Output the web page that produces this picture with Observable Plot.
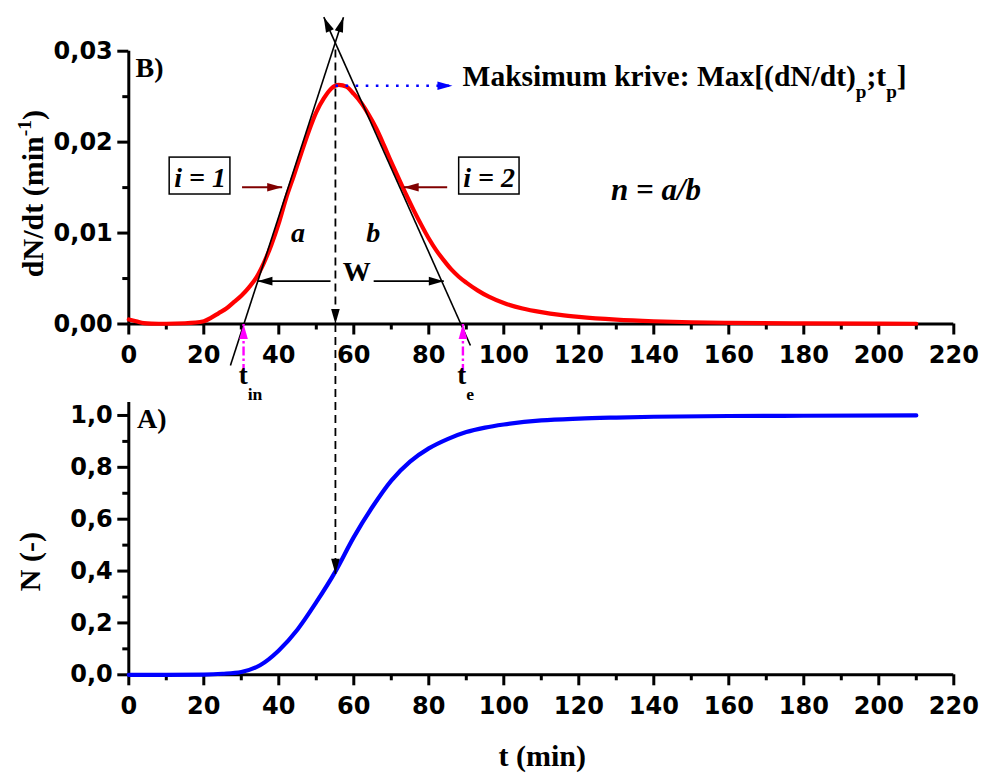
<!DOCTYPE html>
<html>
<head>
<meta charset="utf-8">
<script src="https://cdn.jsdelivr.net/npm/d3@7"></script>
<script src="https://cdn.jsdelivr.net/npm/@observablehq/plot@0.6"></script>
<style>
  html, body { margin: 0; padding: 0; background: #fff; }
  #chart { position: relative; width: 981px; height: 773px; }
  #chart svg { position: absolute; left: 0; top: 0; overflow: visible; }
</style>
</head>
<body>
<div id="chart"></div>
<script>
// ---------------- DATA ----------------
// Panel B: dN/dt (min^-1) versus t (min)
const tB = [0, 2, 4, 6, 10, 15, 20, 22, 24, 26, 28, 30, 32, 34, 36, 38, 40, 42, 44, 46, 48, 50, 52, 54, 56, 58,
            60, 62, 64, 66, 68, 70, 72, 74, 76, 78, 80, 82, 84, 86, 88, 90, 93, 96, 100, 105, 110, 115, 120,
            130, 140, 150, 160, 180, 200, 210];
const dNdt = [0.0005, 0.0003, 0.0001, 0.00005, 0.00003, 0.00008, 0.0003, 0.0007, 0.0012, 0.0017, 0.0024, 0.0031,
              0.0040, 0.0051, 0.0067, 0.0087, 0.0111, 0.0139, 0.0163, 0.0188, 0.0212, 0.0233, 0.0248, 0.0259,
              0.0263, 0.0261, 0.0253, 0.0243, 0.0230, 0.0215, 0.0197, 0.0178, 0.0160, 0.0142, 0.0125, 0.0109,
              0.0094, 0.0081, 0.0070, 0.0060, 0.0052, 0.00455, 0.0037, 0.0030, 0.0023, 0.0017, 0.0013, 0.0010,
              0.00078, 0.00048, 0.0003, 0.00019, 0.00013, 0.00007, 0.00004, 0.00003];

// Panel A: N (-) versus t (min)
const tA = [0, 10, 20, 25, 30, 35, 40, 45, 50, 55, 60, 65, 70, 75, 80, 85, 90, 95, 100, 110, 120, 130, 140, 160, 180, 210];
const N  = [0, 0, 0.001, 0.004, 0.011, 0.037, 0.094, 0.175, 0.280, 0.396, 0.531, 0.648, 0.749, 0.822, 0.873,
            0.909, 0.936, 0.953, 0.965, 0.981, 0.988, 0.992, 0.995, 0.998, 0.999, 1.0];

// Ticks
const xTicks = [0, 20, 40, 60, 80, 100, 120, 140, 160, 180, 200, 220];
const xMinor = [10, 30, 50, 70, 90, 110, 130, 150, 170, 190, 210];
const yTicksB = [0, 0.01, 0.02, 0.03];
const yMinorB = [0.005, 0.015, 0.025];
const yTicksA = [0, 0.2, 0.4, 0.6, 0.8, 1.0];
const yMinorA = [0.1, 0.3, 0.5, 0.7, 0.9];

// Characteristic points
const tP = 55.1;          // time of maximum
const dNdtP = 0.0262;     // maximum of dN/dt
const apexV = 0.0302;     // intersection of tangents
const tIn = 30.6, tE = 89.1;
const NatTp = 0.39;
const tangentL = {t: [27.1, 57.25], v: [-0.00456, 0.03374]};
const tangentR = {t: [91.1, 52.0], v: [-0.00236, 0.03374]};
const wLevel = 0.00471;
const wLeft = [53.8, 34.3], wRight = [65.3, 84.0];
const iLevel = 0.01504;
const i1Arrow = [30.2, 40.9], i2Arrow = [84.9, 73.3];
const maxArrowEnd = 86.3;
const tickArrowFrom = -0.0054;

// ---------------- LAYOUT ----------------
const W = 981, H = 773;
const serif = "'Liberation Serif', Tinos, 'Times New Roman', Times, 'DejaVu Serif', serif";
const sans = "'DejaVu Sans', sans-serif";
const svgStyle = {background: "none", overflow: "visible", color: "black"};

const optsB = {
  width: W, height: H,
  marginLeft: 128.3, marginRight: 27.7, marginTop: 50.7, marginBottom: H - 323.5,
  x: {domain: [0, 220]}, y: {domain: [0, 0.03]},
  style: svgStyle
};
const optsA = {
  width: W, height: H,
  marginLeft: 128.3, marginRight: 27.7, marginTop: 402, marginBottom: H - 674.3,
  x: {domain: [0, 220]}, y: {domain: [0, 1.05]},
  style: svgStyle
};

const probeB = Plot.plot({...optsB, marks: [Plot.ruleY([0])]});
const probeA = Plot.plot({...optsA, marks: [Plot.ruleY([0])]});
const sxB = probeB.scale("x"), syB = probeB.scale("y");
const sxA = probeA.scale("x"), syA = probeA.scale("y");

// filled narrow arrowhead with its tip at the origin, pointing up
const HEAD = {draw(ctx) { ctx.moveTo(0, 0); ctx.lineTo(-4.3, 15); ctx.lineTo(4.3, 15); ctx.closePath(); }};
function headAngle(sx, sy, a) {
  const dx = sx.apply(a.x2) - sx.apply(a.x1);
  const dy = sy.apply(a.y2) - sy.apply(a.y1);
  return Math.atan2(dx, -dy) * 180 / Math.PI;
}
function arrowMarks(list, sx, sy) {
  const out = [];
  for (const a of list) {
    out.push(Plot.link([a], {x1: "x1", y1: "y1", x2: "x2", y2: "y2", stroke: a.color,
      strokeWidth: a.width, strokeDasharray: a.dash || null}));
    out.push(Plot.dot([a], {x: "x2", y: "y2", symbol: HEAD, fill: a.color, stroke: "none",
      rotate: d => headAngle(sx, sy, d)}));
  }
  return out;
}

function axes(ticks, minor, yTicks, yMinor, fmt) {
  return [
    Plot.ruleY([0], {strokeWidth: 3}),
    Plot.ruleX([0], {strokeWidth: 3}),
    Plot.axisX(ticks, {tickSize: 11, tickPadding: 11, strokeWidth: 3, fontSize: 24, fontWeight: "bold",
      fontFamily: sans, label: null, tickFormat: d => String(d)}),
    Plot.axisX(minor, {tickSize: 6, strokeWidth: 3, label: null, tickFormat: () => ""}),
    Plot.axisY(yTicks, {tickSize: 11, tickPadding: 5, strokeWidth: 3, fontSize: 24, fontWeight: "bold",
      fontFamily: sans, label: null, tickFormat: fmt}),
    Plot.axisY(yMinor, {tickSize: 6, strokeWidth: 3, label: null, tickFormat: () => ""})
  ];
}

const txt = {fontWeight: "bold", fill: "black"};

const arrowsB = [
  {x1: tangentL.t[0], y1: tangentL.v[0], x2: tangentL.t[1], y2: tangentL.v[1], color: "black", width: 1.6},
  {x1: tangentR.t[0], y1: tangentR.v[0], x2: tangentR.t[1], y2: tangentR.v[1], color: "black", width: 1.6},
  {x1: tP, y1: apexV, x2: tP, y2: 0, color: "black", width: 1.8, dash: "8,5"},
  {x1: tP, y1: dNdtP, x2: maxArrowEnd, y2: dNdtP, color: "#0000ff", width: 2.6, dash: "2.6,7.5"},
  {x1: i1Arrow[0], y1: iLevel, x2: i1Arrow[1], y2: iLevel, color: "#800000", width: 2},
  {x1: i2Arrow[0], y1: iLevel, x2: i2Arrow[1], y2: iLevel, color: "#800000", width: 2},
  {x1: wLeft[0], y1: wLevel, x2: wLeft[1], y2: wLevel, color: "black", width: 1.8},
  {x1: wRight[0], y1: wLevel, x2: wRight[1], y2: wLevel, color: "black", width: 1.8},
  {x1: tIn, y1: tickArrowFrom, x2: tIn, y2: 0, color: "#ff00ff", width: 2.4, dash: "9,3,2.5,3"},
  {x1: tE, y1: tickArrowFrom, x2: tE, y2: 0, color: "#ff00ff", width: 2.4, dash: "9,3,2.5,3"}
];

const plotB = Plot.plot({
  ...optsB,
  marks: [
    ...axes(xTicks, xMinor, yTicksB, yMinorB, d => d.toFixed(2).replace(".", ",")),
    Plot.line(dNdt, {x: tB, y: dNdt, stroke: "#ff0000", strokeWidth: 4.2, curve: "monotone-x"}),
    Plot.rect([0, 1], {x1: [10.9, 88.1], x2: [27.1, 104.2], y1: [0.01424, 0.01424], y2: [0.0183, 0.0183],
      fill: "none", stroke: "black", strokeWidth: 1.5}),
    ...arrowMarks(arrowsB, sxB, syB),
    Plot.text(["B)"], {x: [1.8], y: [0.0282], text: d => d, textAnchor: "start", fontSize: 28, ...txt}),
    Plot.text(["i = 1", "i = 2"], {x: [19.0, 96.1], y: [0.0161, 0.0161], text: d => d, fontSize: 28,
      fontStyle: "italic", ...txt}),
    Plot.text(["a", "b"], {x: [45.1, 65.2], y: [0.0100, 0.0100], text: d => d, fontSize: 28,
      fontStyle: "italic", ...txt}),
    Plot.text(["W"], {x: [60.8], y: [0.0057], text: d => d, fontSize: 28, ...txt}),
    Plot.text(["n = a/b"], {x: [140.6], y: [0.01468], text: d => d, fontSize: 31, fontStyle: "italic", ...txt}),
    Plot.text(["Maksimum krive: Max[(dN/dt)_{p};t_{p}]"], {x: [89.0], y: [0.02719], text: d => d,
      textAnchor: "start", fontSize: 29.5, ...txt}),
    Plot.text(["t__{in}", "t__{e}"], {x: [29.3, 87.6], y: [-0.0056, -0.0056], text: d => d,
      textAnchor: "start", fontSize: 27, ...txt}),
    Plot.text(["dN/dt (min^{-1})"], {frameAnchor: "left", rotate: -90, dx: -95, dy: 6, textAnchor: "middle",
      lineAnchor: "middle", text: d => d, fontSize: 30, ...txt})
  ]
});

const topOfLowerDash = syA.invert(syB.apply(0));
const arrowsA = [
  {x1: tP, y1: topOfLowerDash, x2: tP, y2: NatTp, color: "black", width: 1.8, dash: "8,5"}
];

const plotA = Plot.plot({
  ...optsA,
  marks: [
    ...axes(xTicks, xMinor, yTicksA, yMinorA, d => d.toFixed(1).replace(".", ",")),
    Plot.line(N, {x: tA, y: N, stroke: "#0000ff", strokeWidth: 4.2, curve: "monotone-x"}),
    ...arrowMarks(arrowsA, sxA, syA),
    Plot.text(["A)"], {x: [2.2], y: [0.986], text: d => d, textAnchor: "start", fontSize: 28, ...txt}),
    Plot.text(["N (-)"], {frameAnchor: "left", rotate: -90, dx: -98, dy: 23, textAnchor: "middle",
      lineAnchor: "middle", text: d => d, fontSize: 30, ...txt}),
    Plot.text(["t (min)"], {frameAnchor: "bottom", dy: 82, dx: 1, textAnchor: "middle", lineAnchor: "middle",
      text: d => d, fontSize: 30, ...txt})
  ]
});

const chart = document.getElementById("chart");
chart.appendChild(plotB);
chart.appendChild(plotA);

// serif annotation text: set the family directly on every non-tick text
for (const svg of [plotB, plotA]) {
  svg.querySelectorAll("text").forEach(el => {
    if (!el.closest("[aria-label^='x-axis'], [aria-label^='y-axis']")) el.style.fontFamily = serif;
  });
}

// sub/superscript markup -> tspans
function enrich(svg) {
  const NS = "http://www.w3.org/2000/svg";
  svg.querySelectorAll("text").forEach(el => {
    const s = el.textContent;
    if (!/(__|_|\^)\{/.test(s)) return;
    const fs = parseFloat(getComputedStyle(el).fontSize) || 24;
    const parts = s.split(/((?:__|_|\^)\{[^}]*\})/).filter(p => p.length);
    el.textContent = "";
    let shift = 0;
    for (const p of parts) {
      const m = p.match(/^(__|_|\^)\{([^}]*)\}$/);
      const ts = document.createElementNS(NS, "tspan");
      if (m) {
        const target = m[1] === "__" ? 0.6 * fs : m[1] === "_" ? 0.4 * fs : -0.42 * fs;
        ts.setAttribute("dy", target - shift);
        shift = target;
        ts.setAttribute("font-size", 0.65 * fs);
        ts.textContent = m[2];
      } else {
        if (shift) ts.setAttribute("dy", -shift);
        shift = 0;
        ts.textContent = p;
      }
      el.appendChild(ts);
    }
  });
}
enrich(plotB);
enrich(plotA);
</script>
</body>
</html>
